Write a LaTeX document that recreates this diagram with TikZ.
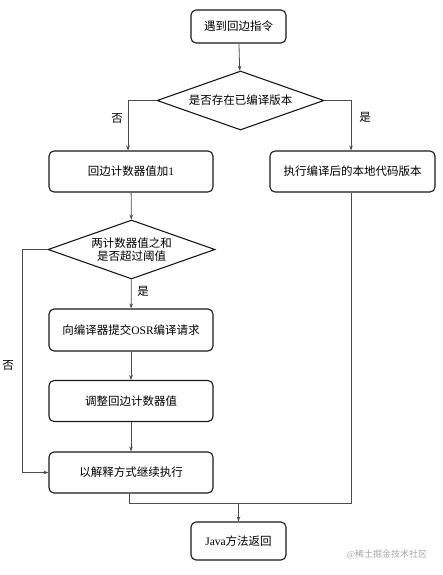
\documentclass[tikz,border=0pt]{standalone}
\usepackage{fontspec}
\setmainfont{Liberation Serif}
\newfontfamily\cjk{Noto Sans CJK SC}
\usetikzlibrary{shapes.geometric,arrows.meta}
\newcommand\cn[1]{{\cjk #1}}
\begin{document}
\begin{tikzpicture}[x=1pt,y=-1pt,
  every node/.style={font=\fontsize{11.5}{15}\selectfont},
  procbox/.style={draw=black!90,line width=1.1pt,rounded corners=5pt,minimum width=164pt,minimum height=41pt,inner sep=0pt,align=center},
  decbox/.style={draw=black!90,line width=1.1pt,diamond,aspect=2.83,minimum width=167pt,minimum height=59pt,inner sep=0pt,align=center},
  conn/.style={draw=black!70,line width=0.8pt},
  arr/.style={conn,-{Stealth[length=5pt,width=3.6pt]}},
  lbl/.style={inner sep=0pt}]
\useasboundingbox (0,0) rectangle (443,575);
\node[procbox,minimum width=95pt,minimum height=33pt] (start) at (238.5,26.5) {\cn{遇到回边指令}};
\node[decbox] (d1) at (240.5,100.5) {\cn{是否存在已编译版本}};
\node[procbox] (b2) at (131,171.5) {\cn{回边计数器值加}1};
\node[procbox,minimum width=165pt] (br) at (352.5,171.5) {\cn{执行编译后的本地代码版本}};
\node[decbox] (d2) at (131.5,249.5) {\cn{两计数器值之和}\\[-2pt]\cn{是否超过阈值}};
\node[procbox,minimum height=42pt] (osr) at (131,330) {\cn{向编译器提交}OSR\cn{编译请求}};
\node[procbox] (adj) at (131,401) {\cn{调整回边计数器值}};
\node[procbox] (interp) at (131,472.5) {\cn{以解释方式继续执行}};
\node[procbox,minimum width=95pt,minimum height=38pt] (java) at (238.5,541) {Java\cn{方法返回}};
\coordinate (m) at (238.5,503);
\coordinate (lp) at (22,249.5);
\draw[arr] (start) -- (d1);
\draw[arr] (d1.west) -| ([xshift=-3pt]b2.north);
\draw[arr] (d1.east) -| ([xshift=-1.5pt]br.north);
\draw[arr] (b2) -- (d2);
\draw[arr] (d2) -- (osr);
\draw[arr] (osr) -- (adj);
\draw[arr] (adj) -- (interp);
\draw[arr] (d2.west) -- (lp) |- (interp.west);
\draw[conn] ([xshift=-2pt]interp.south) -- ([xshift=-2pt]interp.south |- m) -- ([xshift=-1.5pt]br.south |- m) -- ([xshift=-1.5pt]br.south);
\draw[arr] (m) -- (java);
\node[lbl] (no1) at (117,118) {\cn{否}};
\node[lbl] (yes1) at (365,117) {\cn{是}};
\node[lbl] (yes2) at (143,291) {\cn{是}};
\node[lbl] (no2) at (8,365) {\cn{否}};
\node[lbl,text=black!35,font=\fontsize{9}{11}\selectfont] (wm) at (387,555) {@\cn{稀土掘金技术社区}};
\end{tikzpicture}
\end{document}
